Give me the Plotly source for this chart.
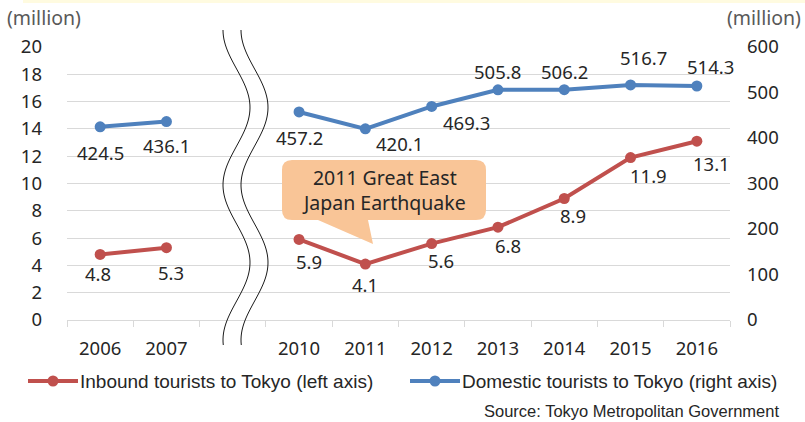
import math
import plotly.graph_objects as go

# data
years = ["2006", "2007", "", "2010", "2011", "2012", "2013", "2014", "2015", "2016"]
inbound = [4.8, 5.3, None, 5.9, 4.1, 5.6, 6.8, 8.9, 11.9, 13.1]
domestic = [424.5, 436.1, None, 457.2, 420.1, 469.3, 505.8, 506.2, 516.7, 514.3]

# data-label offsets in px (dx right, dy down), as placed in the original
inbound_off = [(-2, 19), (5, 25), None, (10, 22), (0, 20), (9, 17), (10, 18), (9, 17), (18, 18), (15, 22)]
domestic_off = [(0, 26), (0, 24), None, (0, 26), (34, 15), (35, 16), (0, -18), (0, -18), (13, -27), (14, -19)]

RED = "#C0504D"
BLUE = "#4F81BD"
TXT = "#262626"
GRID = "#D9D9D9"
FONT = "Noto Sans"
ARIAL = "Liberation Sans"

W, H = 805, 422
L, R, T, B = 67, 730, 47, 320

xpos = list(range(len(years)))


def px(x, y):
    return (x - L) / (R - L), (B - y) / (B - T)


fig = go.Figure()
fig.add_trace(go.Scatter(
    x=xpos, y=inbound, name="Inbound tourists to Tokyo (left axis)",
    mode="lines+markers", line=dict(color=RED, width=4),
    marker=dict(size=11, color=RED), yaxis="y", connectgaps=False,
))
fig.add_trace(go.Scatter(
    x=xpos, y=domestic, name="Domestic tourists to Tokyo (right axis)",
    mode="lines+markers", line=dict(color=BLUE, width=4),
    marker=dict(size=11, color=BLUE), yaxis="y2", connectgaps=False,
))

ann = []
for xi, v, off in zip(xpos, inbound, inbound_off):
    if v is None:
        continue
    ann.append(dict(x=xi, y=v, yref="y", text=f"{v:.1f}", showarrow=False,
                    xshift=off[0], yshift=-off[1],
                    font=dict(size=18.5, color=TXT, family=FONT)))
for xi, v, off in zip(xpos, domestic, domestic_off):
    if v is None:
        continue
    ann.append(dict(x=xi, y=v, yref="y2", text=f"{v:.1f}", showarrow=False,
                    xshift=off[0], yshift=-off[1],
                    font=dict(size=18.5, color=TXT, family=FONT)))

ann += [
    dict(xref="paper", yref="paper", x=px(5, 0)[0], y=px(0, 18)[1], xanchor="left",
         yanchor="middle", text="(million)", showarrow=False,
         font=dict(size=19.5, color="#595959", family=FONT)),
    dict(xref="paper", yref="paper", x=px(803, 0)[0], y=px(0, 18)[1], xanchor="right",
         yanchor="middle", text="(million)", showarrow=False,
         font=dict(size=19.5, color="#595959", family=FONT)),
    dict(xref="paper", yref="paper", x=px(384, 0)[0], y=px(0, 190)[1], xanchor="center",
         yanchor="middle", text="2011 Great East<br>Japan Earthquake", showarrow=False,
         font=dict(size=19.5, color=TXT, family=FONT)),
    dict(xref="paper", yref="paper", x=px(781, 0)[0], y=px(0, 411)[1], xanchor="right",
         yanchor="middle", text="Source: Tokyo Metropolitan Government", showarrow=False,
         font=dict(size=16.5, color=TXT, family=ARIAL)),
]

shapes = []
# axis-break wavy lines
for off in (0, 18):
    pts = []
    y = 30
    while y <= 347:
        x = 236.5 + off - 13.5 * math.cos(2 * math.pi * (y - 30) / 155)
        pts.append(px(x, y))
        y += 3
    path = "M " + " L ".join(f"{a:.5f},{b:.5f}" for a, b in pts)
    shapes.append(dict(type="path", xref="paper", yref="paper", path=path,
                       line=dict(color="#1a1a1a", width=1)))

# callout bubble
x0, x1, y0, y1, r = 282, 486, 160, 220, 10
seq = [
    ("M", (x0 + r, y0)), ("L", (x1 - r, y0)), ("Q", (x1, y0), (x1, y0 + r)),
    ("L", (x1, y1 - r)), ("Q", (x1, y1), (x1 - r, y1)),
    ("L", (368, y1)), ("L", (373, 244)), ("L", (318, y1)),
    ("L", (x0 + r, y1)), ("Q", (x0, y1), (x0, y1 - r)),
    ("L", (x0, y0 + r)), ("Q", (x0, y0), (x0 + r, y0)),
]
parts = []
for item in seq:
    cmd = item[0]
    coords = " ".join("%.5f,%.5f" % px(*p) for p in item[1:])
    parts.append(f"{cmd} {coords}")
shapes.append(dict(type="path", xref="paper", yref="paper", path=" ".join(parts) + " Z",
                   fillcolor="#F9C597", line=dict(width=0), layer="above"))

# thin top strip
shapes.append(dict(type="rect", xref="paper", yref="paper",
                   x0=px(23, 0)[0], x1=px(805, 0)[0], y0=px(0, 3)[1], y1=px(0, 0)[1],
                   fillcolor="#FFFBE0", line=dict(width=0)))

# legend drawn by hand (Excel style: long line with a dot)
for tr, lx in zip(fig.data, (28, 410)):
    col = tr.line.color
    ly = 381
    a, b = px(lx, ly)
    c, _ = px(lx + 50, ly)
    shapes.append(dict(type="line", xref="paper", yref="paper", x0=a, x1=c, y0=b, y1=b,
                       line=dict(color=col, width=4)))
    m0 = px(lx + 25 - 5.5, ly + 5.5)
    m1 = px(lx + 25 + 5.5, ly - 5.5)
    shapes.append(dict(type="circle", xref="paper", yref="paper",
                       x0=m0[0], y0=m0[1], x1=m1[0], y1=m1[1],
                       fillcolor=col, line=dict(width=0)))
    ann.append(dict(xref="paper", yref="paper", x=px(lx + 50, 0)[0], y=b,
                    xanchor="left", yanchor="middle", text=tr.name, showarrow=False,
                    font=dict(size=19, color=TXT, family=ARIAL)))

fig.update_layout(
    width=W, height=H,
    margin=dict(l=L, r=W - R, t=T, b=H - B),
    paper_bgcolor="white", plot_bgcolor="white",
    font=dict(family=FONT, size=18.5, color=TXT),
    xaxis=dict(range=[-0.5, len(years) - 0.5], tickmode="array", tickvals=xpos,
               ticktext=years, tickangle=0,
               showgrid=False, showline=True, linecolor=GRID, linewidth=1.3,
               ticks="", tickfont=dict(size=18.5, color=TXT, family=FONT),
               ticklabelstandoff=12, zeroline=False,
               minor=dict(tickmode="array", tickvals=[i - 0.5 for i in range(len(years) + 1)],
                          ticks="outside", ticklen=6, tickcolor=GRID, tickwidth=1.3,
                          showgrid=False)),
    yaxis=dict(range=[0, 20], dtick=2, showgrid=True, gridcolor=GRID, gridwidth=1.3,
               zeroline=False, showline=False, ticks="", ticklabelstandoff=24,
               tickfont=dict(size=18.5, color=TXT, family=FONT)),
    yaxis2=dict(range=[0, 600], dtick=100, overlaying="y", side="right",
                showgrid=False, zeroline=False, showline=False, ticks="",
                ticklabelstandoff=16, tickfont=dict(size=18.5, color=TXT, family=FONT)),
    showlegend=False,
    annotations=ann,
    shapes=shapes,
)

fig.write_html("out.html", config={"displayModeBar": False},
               post_script="document.body.style.margin='0px';")
